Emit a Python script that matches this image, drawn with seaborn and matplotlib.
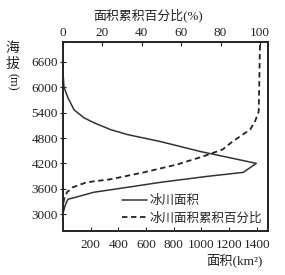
import matplotlib
matplotlib.use("Agg")
import matplotlib.pyplot as plt
import seaborn as sns
import pandas as pd

# data
area_elev = [6350, 6008, 5750, 5467, 5280, 5162, 4997, 4880, 4715, 4480, 4316, 4200, 3987, 3893, 3752, 3635, 3517, 3400, 3352, 3200, 3070]
area_km2 = [0, 7, 36, 80, 151, 223, 345, 468, 705, 993, 1230, 1396, 1302, 1043, 705, 468, 223, 94, 36, 15, 5]

cum_elev = [7000, 6600, 6000, 5420, 5200, 5000, 4715, 4528, 4363, 4175, 3987, 3823, 3752, 3635, 3517, 3350, 3150]
cum_pct = [100, 99.8, 99.6, 99.3, 97.5, 95, 86, 81, 71, 58, 41, 24, 12, 5, 2, 0.5, 0]

yticks = [3000, 3600, 4200, 4800, 5400, 6000, 6600]
xticks_bottom = [200, 400, 600, 800, 1000, 1200, 1400]
xticks_top = [0, 20, 40, 60, 80, 100]

label_area = "冰川面积"
label_cum = "冰川面积累积百分比"

sns.set_style("ticks")
FAM = ["Liberation Serif", "Noto Sans CJK SC"]
plt.rcParams["font.family"] = FAM

df_a = pd.DataFrame({"area": area_km2, "elev": area_elev})
df_c = pd.DataFrame({"pct": cum_pct, "elev": cum_elev})

fig = plt.figure(figsize=(2.85, 2.75), dpi=100)
ax = fig.add_axes([0.221, 0.16, 0.719, 0.687])
ax2 = ax.twiny()

sns.lineplot(data=df_a, x="area", y="elev", sort=False, estimator=None, orient="y",
             ax=ax, color="#333333", lw=1.1, label=label_area, legend=False)
sns.lineplot(data=df_c, x="pct", y="elev", sort=False, estimator=None, orient="y",
             ax=ax2, color="#222222", lw=1.3, linestyle=(0, (3, 2)), label=label_cum, legend=False)

ax.set_xlim(0, 1480)
ax2.set_xlim(0, 104)
ax.set_ylim(2600, 7070)

ax.set_xticks(xticks_bottom)
ax.set_yticks(yticks)
ax2.set_xticks(xticks_top)
ax.set_xlabel("")
ax.set_ylabel("")
ax2.set_xlabel("")
ax2.set_ylabel("")

for a in (ax, ax2):
    for s in a.spines.values():
        s.set_visible(True)
        s.set_linewidth(1.2)
        s.set_color("#222222")

ax.tick_params(axis="x", direction="in", length=3, labelsize=9.5, pad=6, colors="#222222")
ax.tick_params(axis="y", direction="inout", length=5, labelsize=9.5, pad=1, colors="#222222")
ax2.tick_params(axis="x", direction="in", length=3, labelsize=9.5, pad=2, colors="#222222")

h1, l1 = ax.get_legend_handles_labels()
h2, l2 = ax2.get_legend_handles_labels()
leg = ax.legend(h1 + h2, l1 + l2, loc="lower right", frameon=False,
                prop={"family": FAM, "size": 9}, handlelength=2.0,
                handletextpad=0.16, labelspacing=0.4, borderaxespad=0.0,
                borderpad=0.2, bbox_to_anchor=(0.983, 0.021))

fig.text(148 / 285, 1 - 15 / 275, "面积累积百分比(%)", ha="center", va="center",
         fontsize=9.3, family=FAM, color="#222222")
fig.text(12 / 285, 1 - 48 / 275, "海", ha="center", va="center", fontsize=10, family=FAM, color="#222222")
fig.text(12 / 285, 1 - 64 / 275, "拔", ha="center", va="center", fontsize=10, family=FAM, color="#222222")
fig.text(12 / 285, 1 - 82 / 275, "(m)", ha="center", va="center", fontsize=9, family=FAM,
         rotation=-90, color="#222222")
fig.text(263 / 285, 1 - 260 / 275, "面积(km²)", ha="right", va="center", fontsize=9.5,
         family=FAM, color="#222222")

fig.savefig("out.png", dpi=100)
